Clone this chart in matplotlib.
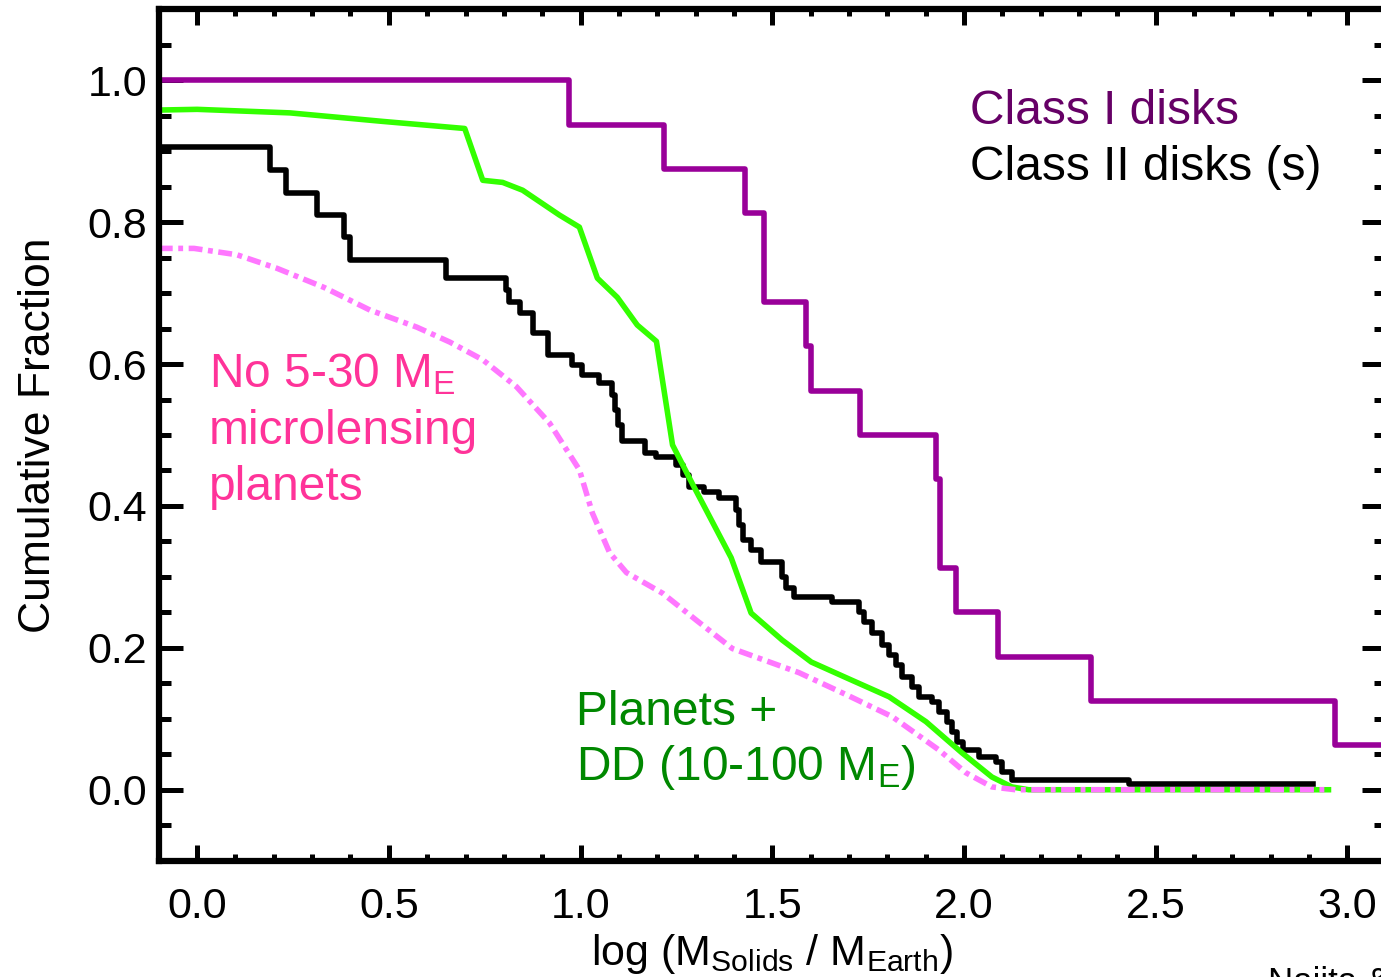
import matplotlib
matplotlib.use('Agg')
import matplotlib.pyplot as plt
from matplotlib.ticker import MultipleLocator, FormatStrFormatter

plt.rcParams.update({
    'font.family': 'Liberation Sans',
    'mathtext.fontset': 'custom',
    'mathtext.rm': 'Liberation Sans',
    'mathtext.it': 'Liberation Sans:italic',
    'mathtext.bf': 'Liberation Sans:bold',
    'lines.scale_dashes': False,
})

# Class I disks: step levels (x = left edge of each level)
class1_x = [-0.10, 0.971, 1.219, 1.430, 1.479, 1.589, 1.602, 1.729, 1.927, 1.938,
            1.979, 2.089, 2.331, 2.969, 3.20]
class1_y = [1.0, 0.9375, 0.875, 0.8125, 0.6875, 0.625, 0.5625, 0.5, 0.4375, 0.3125,
            0.25, 0.1875, 0.125, 0.0625, 0.0625]

# Class II disks (s): step levels
class2_x = [-0.10, 0.190, 0.232, 0.313, 0.383, 0.398, 0.648, 0.805, 0.813, 0.841,
            0.875, 0.914, 0.977, 1.005, 1.047, 1.083, 1.091, 1.099, 1.107, 1.167,
            1.198, 1.250, 1.268, 1.284, 1.323, 1.362, 1.406, 1.414, 1.424, 1.445,
            1.471, 1.526, 1.536, 1.557, 1.656, 1.727, 1.740, 1.760, 1.786, 1.805,
            1.823, 1.839, 1.865, 1.883, 1.917, 1.935, 1.956, 1.969, 1.982, 1.997,
            2.039, 2.083, 2.099, 2.125, 2.430, 2.911]
class2_y = [0.906, 0.873, 0.841, 0.810, 0.779, 0.746, 0.721, 0.704, 0.687, 0.672,
            0.644, 0.613, 0.599, 0.585, 0.573, 0.556, 0.535, 0.514, 0.492, 0.475,
            0.469, 0.458, 0.444, 0.427, 0.420, 0.411, 0.394, 0.373, 0.352, 0.338,
            0.321, 0.300, 0.285, 0.272, 0.265, 0.251, 0.237, 0.221, 0.204, 0.190,
            0.176, 0.159, 0.145, 0.131, 0.123, 0.110, 0.096, 0.082, 0.068, 0.056,
            0.046, 0.039, 0.025, 0.014, 0.0085, 0.0085]

# Planets + DD (10-100 M_E)
planets_x = [-0.10, 0.0, 0.242, 0.484, 0.698, 0.745, 0.797, 0.849, 0.945, 0.997,
             1.044, 1.096, 1.148, 1.198, 1.240, 1.292, 1.393, 1.445, 1.526, 1.602,
             1.701, 1.805, 1.901, 1.995, 2.073, 2.125, 2.169, 2.951]
planets_y = [0.958, 0.959, 0.954, 0.942, 0.932, 0.859, 0.856, 0.845, 0.810, 0.793,
             0.721, 0.694, 0.655, 0.632, 0.486, 0.431, 0.327, 0.249, 0.211, 0.180,
             0.156, 0.131, 0.096, 0.052, 0.018, 0.004, 0.0, 0.0]

# No 5-30 M_E microlensing planets
nolens_x = [-0.10, -0.008, 0.104, 0.208, 0.331, 0.451, 0.573, 0.659, 0.745, 0.833,
            0.919, 0.997, 1.031, 1.076, 1.120, 1.214, 1.302, 1.396, 1.570, 1.701,
            1.813, 1.935, 2.005, 2.073, 2.135, 2.951]
nolens_y = [0.763, 0.763, 0.754, 0.735, 0.708, 0.676, 0.652, 0.631, 0.606, 0.568,
            0.517, 0.451, 0.390, 0.334, 0.306, 0.277, 0.239, 0.199, 0.165, 0.132,
            0.103, 0.056, 0.024, 0.004, 0.0, 0.0]

fig = plt.figure(figsize=(13.81, 9.77), dpi=100)
ax = fig.add_axes([158.8/1381, 1 - 860.7/977, (1385.6 - 158.8)/1381, (860.7 - 9.3)/977])

lw = 4.0
ax.plot(class1_x, class1_y, drawstyle='steps-post', color='#990099', lw=lw)
ax.plot(class2_x, class2_y, drawstyle='steps-post', color='black', lw=lw)
ax.plot(planets_x, planets_y, color='#33ff00', lw=lw)
ax.plot(nolens_x, nolens_y, color='#ff77ff', lw=lw, linestyle=(0, (10, 4, 3.5, 4)))

ax.set_xlim(-0.1, 3.1)
ax.set_ylim(-0.1, 1.1)

ax.xaxis.set_major_locator(MultipleLocator(0.5))
ax.xaxis.set_minor_locator(MultipleLocator(0.1))
ax.yaxis.set_major_locator(MultipleLocator(0.2))
ax.yaxis.set_minor_locator(MultipleLocator(0.05))
ax.xaxis.set_major_formatter(FormatStrFormatter('%.1f'))
ax.yaxis.set_major_formatter(FormatStrFormatter('%.1f'))

ax.tick_params(which='both', direction='in', top=True, right=True, width=3.6,
               labelsize=31)
ax.tick_params(axis='x', which='major', length=11.5, pad=19)
ax.tick_params(axis='x', which='minor', length=5)
ax.tick_params(axis='y', which='major', length=17, pad=8.5)
ax.tick_params(axis='y', which='minor', length=8.3)
for s in ax.spines.values():
    s.set_linewidth(4.5)

ax.set_xlabel(r'log (M$_{\rm Solids}$ / M$_{\rm Earth}$)', fontsize=31, va='baseline')
ax.xaxis.set_label_coords(0.5, -(965 - 860.7)/851.4)
ax.set_ylabel('Cumulative Fraction', fontsize=32, va='baseline')
ax.yaxis.set_label_coords(-(158.8 - 50)/1226.8, 0.5)

ax.text(2.017, 0.939, 'Class I disks', color='#660066', fontsize=34.5, va='baseline')
ax.text(2.017, 0.859, 'Class II disks (s)', color='black', fontsize=34.5, va='baseline')

ax.text(0.030, 0.567, r'No 5-30 M$_{\rm E}$', color='#ff3399', fontsize=34.5, va='baseline')
ax.text(0.030, 0.488, 'microlensing', color='#ff3399', fontsize=34.5, va='baseline')
ax.text(0.030, 0.408, 'planets', color='#ff3399', fontsize=34.5, va='baseline')

ax.text(0.989, 0.091, 'Planets +', color='#008800', fontsize=34.5, va='baseline')
ax.text(0.989, 0.0137, r'DD (10-100 M$_{\rm E}$)', color='#008800', fontsize=34.5,
        va='baseline')

fig.text(1268/1381, 1 - 966/977, 'Najita & Kenyon 2014', fontsize=25, va='top', ha='left')

fig.savefig('out.png', dpi=100)
